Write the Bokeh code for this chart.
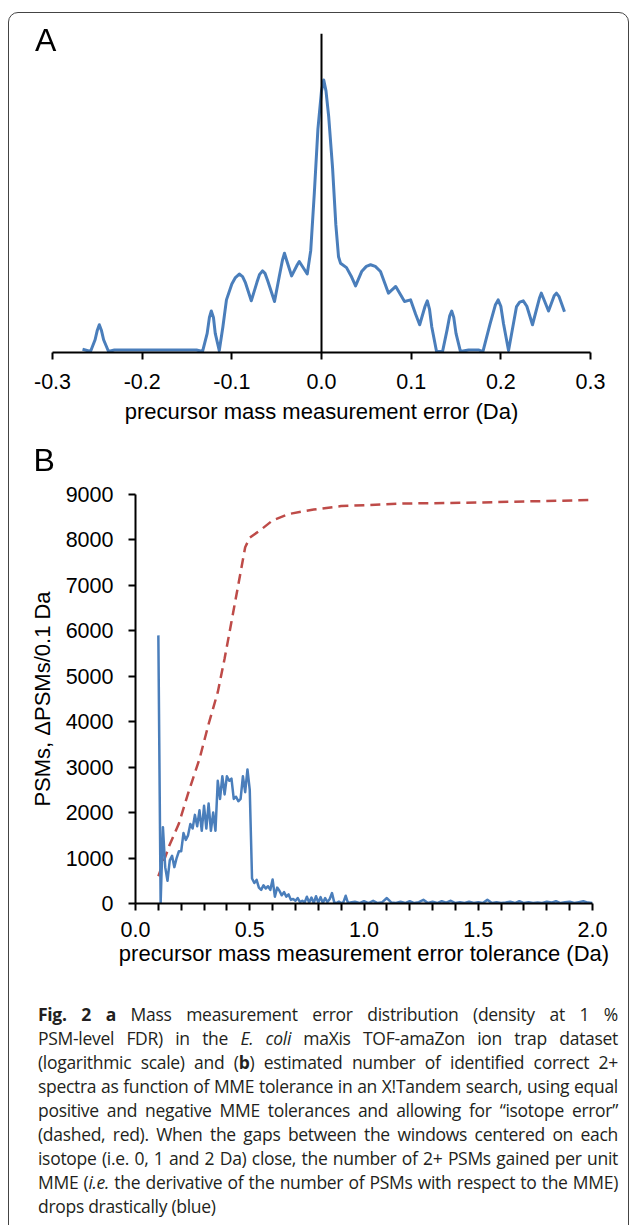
from bokeh.plotting import figure
from bokeh.models import Range1d, FixedTicker, NumeralTickFormatter, Span, Div
from bokeh.embed import file_html
from bokeh.resources import INLINE

# ---------------- Panel A: mass measurement error distribution ----------------
a_err = [-0.2665, -0.2576, -0.2525, -0.2500, -0.2478, -0.2455, -0.2430, -0.2375, -0.2309,
         -0.2000, -0.1700, -0.1394, -0.1327, -0.1275, -0.1250, -0.1229, -0.1205, -0.1185,
         -0.1140, -0.1100, -0.1060, -0.1000, -0.0960, -0.0917, -0.0880, -0.0850, -0.0783,
         -0.0720, -0.0690, -0.0658, -0.0630, -0.0600, -0.0524, -0.0470, -0.0435, -0.0413,
         -0.0390, -0.0333, -0.0270, -0.0248, -0.0225, -0.0159, -0.0120, -0.0080, -0.0040,
         0.0000, 0.0025, 0.0050, 0.0080, 0.0123, 0.0160, 0.0190, 0.0212, 0.0279,
         0.0330, 0.0380, 0.0450, 0.0500, 0.0547, 0.0600, 0.0658, 0.0747, 0.0828,
         0.0926, 0.0993, 0.1050, 0.1095, 0.1155, 0.1180, 0.1205, 0.1230, 0.1283,
         0.1350, 0.1400, 0.1430, 0.1452, 0.1475, 0.1500, 0.1550, 0.1640, 0.1750,
         0.1800, 0.1880, 0.1940, 0.1970, 0.2000, 0.2030, 0.2086, 0.2175, 0.2210,
         0.2250, 0.2290, 0.2353, 0.2430, 0.2451, 0.2475, 0.2532, 0.2595, 0.2620,
         0.2650, 0.2710]
a_density = [1.0, 0.3, 4.0, 7.0, 8.7, 7.0, 4.0, 0.3, 0.8,
             0.8, 0.8, 0.8, 0.3, 6.0, 11.0, 13.0, 11.0, 6.0,
             0.6, 8.0, 16.5, 21.5, 23.5, 24.6, 23.8, 22.0, 16.2,
             22.0, 24.5, 25.6, 24.8, 22.5, 16.0, 24.0, 29.0, 31.1,
             29.0, 24.0, 27.5, 28.5, 27.5, 24.6, 32.0, 50.0, 70.0,
             82.0, 85.4, 82.0, 74.0, 58.0, 40.0, 30.0, 28.0, 26.6,
             24.0, 20.9, 25.5, 27.0, 27.5, 27.0, 25.4, 18.6, 20.7,
             16.0, 16.5, 12.0, 8.7, 14.5, 16.2, 13.5, 8.0, 0.3,
             0.3, 7.0, 11.5, 13.0, 11.0, 6.0, 0.3, 0.8, 0.8,
             0.3, 9.0, 15.0, 16.5, 14.5, 9.0, 0.6, 14.4, 15.8,
             16.2, 14.5, 8.7, 17.0, 18.6, 17.0, 13.0, 17.8, 18.6,
             17.5, 12.8]
a_ticks = [-0.3, -0.2, -0.1, 0.0, 0.1, 0.2, 0.3]
a_xlabel = "precursor mass measurement error (Da)"

# ---------------- Panel B: PSMs vs MME tolerance ----------------
b_tol_psms = [0.10, 0.15, 0.19, 0.23, 0.28, 0.32, 0.36, 0.39, 0.42, 0.46, 0.48, 0.50,
              0.55, 0.60, 0.67, 0.78, 0.90, 1.17, 1.52, 2.00]
b_psms = [600, 1300, 1760, 2420, 3180, 3950, 4650, 5390, 6200, 7290, 7840, 8050,
          8230, 8430, 8570, 8670, 8745, 8800, 8825, 8880]

b_tol_dpsms = [0.10, 0.11, 0.12, 0.13, 0.14, 0.15, 0.16, 0.17, 0.18, 0.19, 0.20,
               0.21, 0.22, 0.23, 0.24, 0.25, 0.26, 0.27, 0.28, 0.29, 0.30,
               0.31, 0.32, 0.33, 0.34, 0.35, 0.36, 0.37, 0.38, 0.39, 0.40,
               0.41, 0.42, 0.43, 0.44, 0.45, 0.46, 0.47, 0.48, 0.49, 0.50,
               0.51, 0.52, 0.53, 0.54, 0.55, 0.56, 0.57, 0.58, 0.59, 0.60,
               0.61, 0.62, 0.63, 0.64, 0.65, 0.66, 0.67, 0.68, 0.69, 0.70,
               0.71, 0.72, 0.73, 0.74, 0.75, 0.76, 0.77, 0.78, 0.79, 0.80,
               0.81, 0.82, 0.83, 0.84, 0.85, 0.86, 0.87, 0.88, 0.89, 0.90,
               0.91, 0.92, 0.93, 0.94, 0.96, 0.98, 1.00, 1.02, 1.04, 1.06,
               1.08, 1.10, 1.12, 1.14, 1.16, 1.18, 1.20, 1.22, 1.24, 1.26,
               1.28, 1.30, 1.32, 1.34, 1.36, 1.38, 1.40, 1.42, 1.44, 1.46,
               1.48, 1.50, 1.52, 1.54, 1.56, 1.58, 1.60, 1.62, 1.64, 1.66,
               1.68, 1.70, 1.72, 1.74, 1.76, 1.78, 1.80, 1.82, 1.84, 1.86,
               1.88, 1.90, 1.92, 1.94, 1.96, 1.98, 2.00]
b_dpsms = [5900, 0, 1680, 800, 500, 950, 1050, 800, 1000, 1150, 1150,
           1550, 1400, 1500, 1750, 1650, 1950, 1700, 2050, 1600, 2150,
           1650, 2200, 1600, 2000, 1600, 2700, 2300, 2800, 2400, 2800,
           2700, 2750, 2300, 2350, 2250, 2300, 2800, 2450, 2950, 2500,
           550, 450, 520, 350, 300, 400, 330, 380, 300, 530,
           150, 350, 280, 180, 250, 150, 200, 80, 100, 60,
           120, 30, 60, 20, 150, 20, 130, 10, 160, 20,
           140, 10, 120, 30, 100, 230, 20, 10, 40, 10,
           30, 170, 10, 20, 40, 10, 50, 10, 60, 10,
           30, 120, 20, 10, 40, 10, 50, 10, 30, 80,
           10, 40, 10, 50, 20, 60, 10, 30, 10, 40,
           10, 30, 10, 80, 10, 30, 10, 20, 40, 10,
           50, 10, 30, 10, 20, 10, 40, 20, 50, 10,
           30, 40, 10, 30, 50, 20, 10]
b_xticks = [0.0, 0.5, 1.0, 1.5, 2.0]
b_xminor = [0.1, 0.2, 0.3, 0.4, 0.6, 0.7, 0.8, 0.9, 1.1, 1.2, 1.3, 1.4,
            1.6, 1.7, 1.8, 1.9]
b_yticks = [0, 1000, 2000, 3000, 4000, 5000, 6000, 7000, 8000, 9000]
b_xlabel = "precursor mass measurement error tolerance (Da)"
b_ylabel = "PSMs, \u0394PSMs/0.1 Da"

panel_letters = ["A", "B"]

caption_lines = [
    "<b>Fig. 2</b> <b>a</b> Mass measurement error distribution (density at 1 %",
    "PSM-level FDR) in the <i>E. coli</i> maXis TOF-amaZon ion trap dataset",
    "(logarithmic scale) and (<b>b</b>) estimated number of identified correct 2+",
    "spectra as function of MME tolerance in an X!Tandem search, using equal",
    "positive and negative MME tolerances and allowing for \u201cisotope error\u201d",
    "(dashed, red). When the gaps between the windows centered on each",
    "isotope (i.e. 0, 1 and 2 Da) close, the number of 2+ PSMs gained per unit",
    "MME (<i>i.e.</i> the derivative of the number of PSMs with respect to the MME)",
    "drops drastically (blue)",
]

FONT = "Liberation Sans"
BLUE = "#4a7ebb"
RED = "#be4b48"
TICK_SIZE = "21.5px"
TITLE_SIZE = "22px"
W = 628


def style_axis(ax):
    ax.axis_line_color = "black"
    ax.axis_line_width = 2
    ax.major_tick_line_color = "black"
    ax.major_tick_line_width = 2
    ax.major_tick_out = 7
    ax.major_tick_in = 0
    ax.minor_tick_line_color = "black"
    ax.minor_tick_line_width = 2
    ax.minor_tick_out = 7
    ax.minor_tick_in = 0
    ax.major_label_text_font = FONT
    ax.major_label_text_font_size = TICK_SIZE
    ax.major_label_text_color = "black"
    ax.axis_label_text_font = FONT
    ax.axis_label_text_font_size = TITLE_SIZE
    ax.axis_label_text_font_style = "normal"
    ax.axis_label_text_color = "black"


def base_style(p):
    p.outline_line_color = None
    p.xgrid.visible = False
    p.ygrid.visible = False
    p.background_fill_color = None
    p.border_fill_color = None


# ---------- figure A ----------
pA = figure(width=W, height=430, x_range=Range1d(-0.3, 0.3), y_range=Range1d(0, 100),
            y_axis_location=None, output_backend="svg", toolbar_location=None,
            min_border_left=52, min_border_right=38, min_border_top=33, min_border_bottom=78)
base_style(pA)
pA.line(a_err, a_density, line_color=BLUE, line_width=3, line_join="round")
pA.add_layout(Span(location=0, dimension="height", line_color="black", line_width=2))
axA = pA.xaxis[0]
axA.ticker = FixedTicker(ticks=a_ticks)
axA.formatter = NumeralTickFormatter(format="0.0")
axA.axis_label = a_xlabel
style_axis(axA)
axA.major_label_standoff = 14
axA.axis_label_standoff = 7

# ---------- figure B ----------
pB = figure(width=W, height=555, x_range=Range1d(0, 2.0), y_range=Range1d(0, 9000),
            output_backend="svg", toolbar_location=None,
            min_border_left=135, min_border_right=36, min_border_top=64, min_border_bottom=82)
base_style(pB)
pB.line(b_tol_psms, b_psms, line_color=RED, line_width=2.5, line_dash="10 6")
pB.line(b_tol_dpsms, b_dpsms, line_color=BLUE, line_width=2.5, line_join="round")
axBx = pB.xaxis[0]
axBx.ticker = FixedTicker(ticks=b_xticks, minor_ticks=b_xminor)
axBx.formatter = NumeralTickFormatter(format="0.0")
axBx.axis_label = b_xlabel
style_axis(axBx)
axBx.major_label_standoff = 11
axBx.axis_label_standoff = 1
axBy = pB.yaxis[0]
axBy.ticker = FixedTicker(ticks=b_yticks)
axBy.formatter = NumeralTickFormatter(format="0")
axBy.axis_label = b_ylabel
style_axis(axBy)
axBy.major_label_standoff = 15
axBy.axis_label_standoff = 8

# ---------- caption, panel letters and rounded frame ----------
letter_css = ("position:fixed; font-family:'Liberation Sans'; font-size:32px; line-height:32px; "
              "color:#000; z-index:101;")
overlay = (
    '<div style="position:fixed; left:8px; top:12px; width:621px; height:1400px; '
    'border:1.5px solid #444; border-radius:10px; box-sizing:border-box; '
    'pointer-events:none; z-index:100;"></div>'
    '<div style="' + letter_css + ' left:35px; top:24px;">' + panel_letters[0] + '</div>'
    '<div style="' + letter_css + ' left:33.5px; top:444px;">' + panel_letters[1] + '</div>'
)
line_html = ""
for i, ln in enumerate(caption_lines):
    last = i == len(caption_lines) - 1
    align = "left" if last else "justify"
    wsp = "0px" if last else "-1px"
    line_html += ('<div style="text-align:%s; text-align-last:%s; word-spacing:%s; '
                  'white-space:nowrap;">%s</div>' % (align, align, wsp, ln))
cap = Div(
    text=(overlay +
          '<div style="margin:12px 0 0 33px; width:580px; font-family:\'Open Sans\'; '
          'font-size:17.5px; letter-spacing:-0.3px; line-height:24px; '
          'color:#231f20;">' + line_html + '</div>'),
    width=W, height=231)

open("out.html", "w").write(file_html([pA, pB, cap], INLINE))
